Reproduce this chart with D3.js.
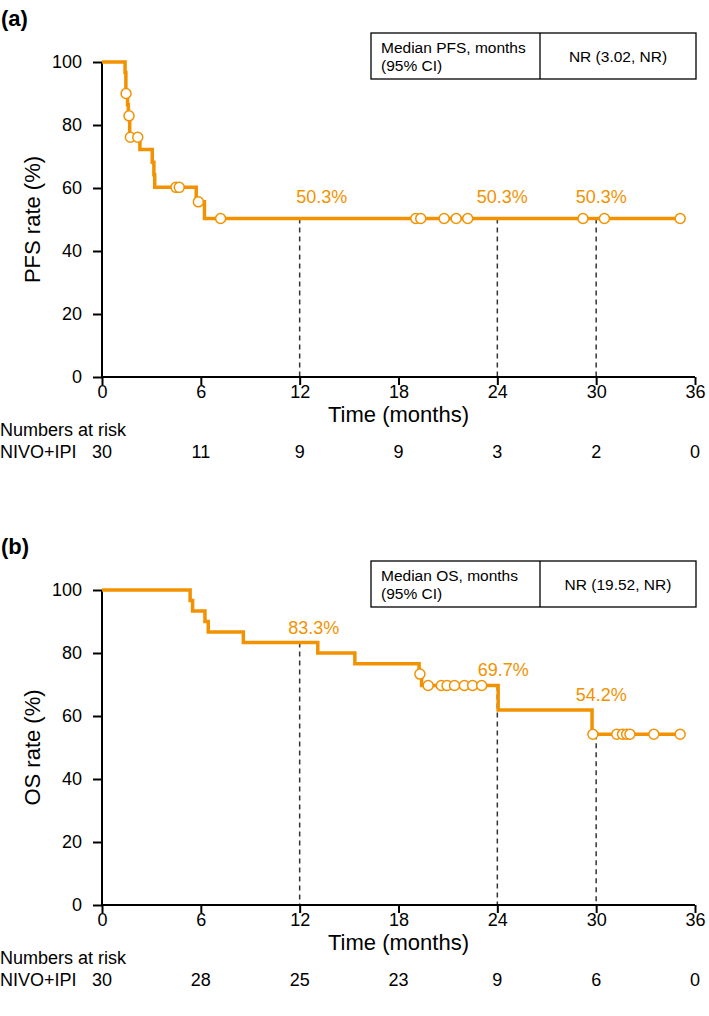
<!DOCTYPE html>
<html><head><meta charset="utf-8">
<script src="https://cdn.jsdelivr.net/npm/d3@7"></script>
<style>
body{margin:0;background:#fff}
svg{display:block}
text{font-family:"Liberation Sans", Arial, Helvetica, sans-serif}
</style>
</head><body>
<svg id="chart" width="709" height="1016"></svg>
<script>
// ---------- data ----------
const timeTicks = [0, 6, 12, 18, 24, 30, 36];
const rateTicks = [0, 20, 40, 60, 80, 100];
const riskTimes = [0, 6, 12, 18, 24, 30, 36];

// PFS (panel a)
const pfsStepTimes = [0, 1.40, 1.45, 1.55, 1.60, 1.68, 2.30, 3.05, 3.15, 3.20, 5.72, 6.22];
const pfsStepRates = [100, 96.7, 90.0, 86.4, 82.9, 76.1, 72.2, 68.2, 64.2, 60.2, 55.6, 50.3];
const pfsEndTime = 35.1;
const pfsCensorTimes = [1.46, 1.64, 1.72, 2.17, 4.49, 4.69, 5.85, 7.2, 19.05, 19.35, 20.77, 21.5, 22.2, 29.2, 30.5, 35.1];
const pfsCensorRates = [90.0, 82.9, 76.1, 76.1, 60.2, 60.2, 55.6, 50.3, 50.3, 50.3, 50.3, 50.3, 50.3, 50.3, 50.3, 50.3];
const pfsLandmarkTimes = [12, 24, 30];
const pfsLandmarkRates = [50.3, 50.3, 50.3];
const pfsLandmarkLabels = ["50.3%", "50.3%", "50.3%"];
const pfsRisk = [30, 11, 9, 9, 3, 2, 0];
const pfsMedianText = ["Median PFS, months", "(95% CI)", "NR (3.02, NR)"];

// OS (panel b)
const osStepTimes = [0, 5.35, 5.50, 6.25, 6.45, 8.58, 13.1, 15.35, 19.25, 19.40, 24.05, 29.75];
const osStepRates = [100, 96.7, 93.3, 90.0, 86.7, 83.3, 80.0, 76.6, 73.3, 69.7, 61.9, 54.2];
const osEndTime = 35.1;
const osCensorTimes = [19.3, 19.8, 20.6, 20.95, 21.4, 22.0, 22.5, 23.05, 29.8, 31.25, 31.6, 31.85, 32.05, 33.5, 35.1];
const osCensorRates = [73.3, 69.7, 69.7, 69.7, 69.7, 69.7, 69.7, 69.7, 54.2, 54.2, 54.2, 54.2, 54.2, 54.2, 54.2];
const osLandmarkTimes = [12, 24, 30];
const osLandmarkRates = [83.3, 69.7, 54.2];
const osLandmarkLabels = ["83.3%", "69.7%", "54.2%"];
const osRisk = [30, 28, 25, 23, 9, 6, 0];
const osMedianText = ["Median OS, months", "(95% CI)", "NR (19.52, NR)"];

// ---------- drawing ----------
const ORANGE = "#F39200";
const svg = d3.select("#chart");
const x = d3.scaleLinear().domain([0, 36]).range([102, 695]);

// curve level just before a landmark (the step that precedes it)
function levelBefore(times, rates, t) {
  let v = rates[0];
  for (let i = 0; i < times.length; i++) { if (times[i] < t - 0.5) v = rates[i]; }
  return v;
}

function drawPanel(cfg) {
  const g = svg.append("g").attr("transform", `translate(0,${cfg.top})`);
  const y = d3.scaleLinear().domain([0, 100]).range([377, 62]);

  g.append("text").attr("x", 1).attr("y", 26).attr("font-size", 22).attr("font-weight", "bold").text(cfg.letter);

  // legend box
  const lb = g.append("g");
  lb.append("rect").attr("x", 371).attr("y", 33).attr("width", 325).attr("height", 46)
    .attr("fill", "none").attr("stroke", "#000").attr("stroke-width", 1.3);
  lb.append("line").attr("x1", 540).attr("x2", 540).attr("y1", 33).attr("y2", 79)
    .attr("stroke", "#000").attr("stroke-width", 1.3);
  lb.append("text").attr("x", 381).attr("y", 53).attr("font-size", 15.5).text(cfg.median[0]);
  lb.append("text").attr("x", 381).attr("y", 71).attr("font-size", 15.5).text(cfg.median[1]);
  lb.append("text").attr("x", 618).attr("y", 62).attr("font-size", 15.5).attr("text-anchor", "middle").text(cfg.median[2]);

  // dashed landmark lines
  g.selectAll(".dash").data(cfg.lmTimes).enter().append("line")
    .attr("x1", d => x(d)).attr("x2", d => x(d))
    .attr("y1", (d, i) => y(cfg.lmRates[i])).attr("y2", y(0))
    .attr("stroke", "#333").attr("stroke-width", 1.5).attr("stroke-dasharray", "5,4");

  // axes
  const yAxis = d3.axisLeft(y).tickValues(rateTicks).tickSize(9).tickPadding(11);
  const ya = g.append("g").attr("transform", `translate(${x(0)},0)`).call(yAxis);
  const xAxis = d3.axisBottom(x).tickValues(timeTicks).tickSize(8);
  const xa = g.append("g").attr("transform", `translate(0,${y(0)})`).call(xAxis);
  [ya, xa].forEach(a => {
    a.select(".domain").attr("stroke", "#000").attr("stroke-width", 2);
    a.selectAll(".tick line").attr("stroke", "#000").attr("stroke-width", 2);
    a.selectAll(".tick text").attr("font-size", 18).attr("fill", "#000")
      .attr("font-family", '"Liberation Sans", Arial, sans-serif');
  });
  ya.select(".domain").attr("d", `M0,${y(0)}V${y(100)}`);
  xa.select(".domain").attr("d", `M${x(0)},0H${x(36)}`);
  xa.selectAll(".tick text").attr("y", 8).attr("dy", "0.71em");

  // axis titles
  g.append("text").attr("transform", `translate(40,${(y(0) + y(100)) / 2}) rotate(-90)`)
    .attr("text-anchor", "middle").attr("font-size", 22).text(cfg.yTitle);
  g.append("text").attr("x", (x(0) + x(36)) / 2).attr("y", 422)
    .attr("text-anchor", "middle").attr("font-size", 22).text("Time (months)");

  // KM curve
  const pts = cfg.times.map((t, i) => [t, cfg.rates[i]]);
  pts.push([cfg.end, cfg.rates[cfg.rates.length - 1]]);
  const line = d3.line().x(d => x(d[0])).y(d => y(d[1])).curve(d3.curveStepAfter);
  g.append("path").datum(pts).attr("d", line).attr("fill", "none")
    .attr("stroke", ORANGE).attr("stroke-width", 3.5);

  // censor marks
  g.selectAll(".cens").data(cfg.cTimes).enter().append("circle")
    .attr("cx", d => x(d)).attr("cy", (d, i) => y(cfg.cRates[i])).attr("r", 5)
    .attr("fill", "#fff").attr("stroke", ORANGE).attr("stroke-width", 1.5);

  // landmark labels
  g.selectAll(".lml").data(cfg.lmTimes).enter().append("text")
    .attr("x", (d, i) => x(d) + cfg.labelDx[i])
    .attr("y", d => y(levelBefore(cfg.times, cfg.rates, d)) - cfg.labelGap)
    .attr("text-anchor", "middle").attr("font-size", 18).attr("fill", ORANGE)
    .text((d, i) => cfg.lmLabels[i]);

  // numbers at risk
  g.append("text").attr("x", 0).attr("y", 436).attr("font-size", 18).text("Numbers at risk");
  g.append("text").attr("x", 0).attr("y", 458).attr("font-size", 18).text("NIVO+IPI");
  g.selectAll(".risk").data(cfg.risk).enter().append("text")
    .attr("x", (d, i) => x(riskTimes[i])).attr("y", 458)
    .attr("text-anchor", "middle").attr("font-size", 18).text(d => d);
}

drawPanel({
  top: 0, letter: "(a)", yTitle: "PFS rate (%)", median: pfsMedianText,
  times: pfsStepTimes, rates: pfsStepRates, end: pfsEndTime,
  cTimes: pfsCensorTimes, cRates: pfsCensorRates,
  lmTimes: pfsLandmarkTimes, lmRates: pfsLandmarkRates, lmLabels: pfsLandmarkLabels,
  labelGap: 16, labelDx: [22, 5, 5], risk: pfsRisk
});
drawPanel({
  top: 528, letter: "(b)", yTitle: "OS rate (%)", median: osMedianText,
  times: osStepTimes, rates: osStepRates, end: osEndTime,
  cTimes: osCensorTimes, cRates: osCensorRates,
  lmTimes: osLandmarkTimes, lmRates: osLandmarkRates, lmLabels: osLandmarkLabels,
  labelGap: 9, labelDx: [14, 6, 5], risk: osRisk
});
</script>
</body></html>
